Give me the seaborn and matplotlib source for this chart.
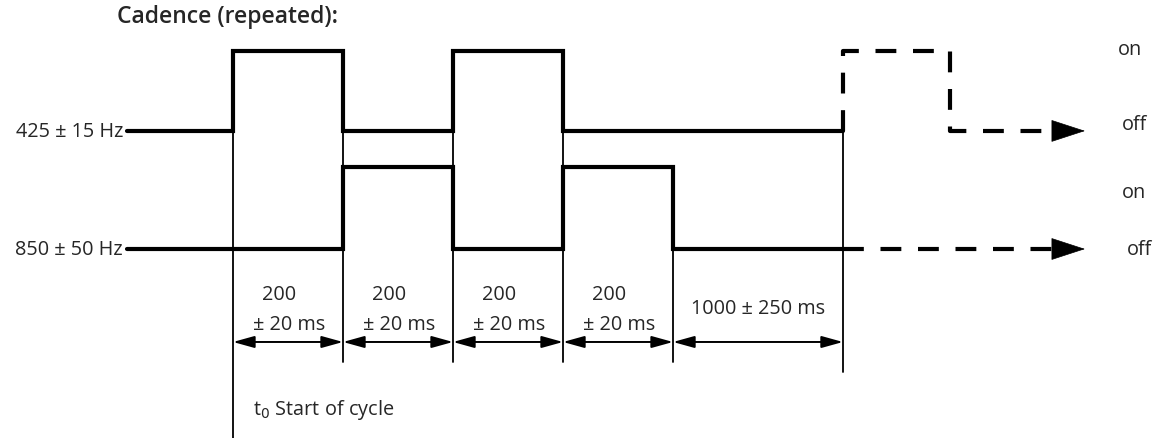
import numpy as np
import pandas as pd
import matplotlib
matplotlib.use("Agg")
import matplotlib.pyplot as plt
import seaborn as sns

# ---------------- data ----------------
title = "Cadence (repeated):"
channel_labels = ["425 ± 15 Hz", "850 ± 50 Hz"]
lead_in = -0.964                      # start of the traces (schematic units, t0 = 0)
edges = [0, 1, 2, 3, 4, 5.545]        # segment boundaries: 200,200,200,200,1000 ms
state_425 = [0, 1, 0, 1, 0, 0]        # lead-in + 5 segments (0 = off, 1 = on)
state_850 = [0, 0, 1, 0, 1, 0]
repeat_edges = [5.545, 6.52, 7.745]   # repeated cadence (dashed)
repeat_425 = [1, 0]
repeat_850 = [0, 0]
seg_value = ["200", "200", "200", "200", ""]
seg_tol = ["± 20 ms", "± 20 ms", "± 20 ms", "± 20 ms", ""]
long_label = "1000 ± 250 ms"
start_label = "t$_0$ Start of cycle"
state_labels = ["on", "off", "on", "off"]

# ---------------- style ----------------
sns.set_style("white")
plt.rcParams["font.family"] = ["Open Sans", "DejaVu Sans"]
plt.rcParams["mathtext.fontset"] = "dejavusans"

base = {"425": 1.44, "850": 0.0}
amp = {"425": 0.98, "850": 1.0}
THICK = 3.0
THIN = 1.3
FS = 14.3

fig = plt.figure(figsize=(11.61, 4.39), dpi=100)
ax = fig.add_axes([0, 0, 1, 1])
ax.set_xlim(-2.118, 8.436)
ax.set_ylim(-2.305, 3.049)
ax.axis("off")


def level(ch, s):
    return base[ch] + amp[ch] * s


# solid traces
for ch, st in (("425", state_425), ("850", state_850)):
    xs = [lead_in] + edges
    ys = [level(ch, s) for s in st] + [level(ch, st[-1])]
    df = pd.DataFrame({"x": xs, "y": ys})
    sns.lineplot(data=df, x="x", y="y", ax=ax, estimator=None, sort=False,
                 drawstyle="steps-post", color="black", lw=THICK,
                 solid_capstyle="round", solid_joinstyle="miter")

# dashed repeated traces with arrows
head_len = 0.29
for ch, st, start_state in (("425", repeat_425, state_425[-1]),
                            ("850", repeat_850, state_850[-1])):
    tip = repeat_edges[-1]
    xs = [repeat_edges[0]] + repeat_edges[:-1] + [tip - head_len]
    ys = [level(ch, start_state)] + [level(ch, s) for s in st] + [level(ch, st[-1])]
    df = pd.DataFrame({"x": xs, "y": ys})
    sns.lineplot(data=df, x="x", y="y", ax=ax, estimator=None, sort=False,
                 drawstyle="steps-post", color="black", lw=THICK,
                 dashes=False, linestyle=(0, (5, 4)), dash_capstyle="butt")
    y_end = level(ch, st[-1])
    ax.annotate("", xy=(tip, y_end), xytext=(tip - head_len, y_end),
                arrowprops=dict(arrowstyle="-|>,head_length=2.3,head_width=0.75",
                                mutation_scale=10, color="black", lw=0.5,
                                shrinkA=0, shrinkB=0))

# thin guide lines
guide_top = [level("425", 0)] * 4 + [level("850", 1), level("425", 0)]
guide_bot = [-2.31, -1.378, -1.378, -1.378, -1.378, -1.5]
for x, t, b in zip(edges, guide_top, guide_bot):
    ax.plot([x, x], [t, b], color="black", lw=THIN, zorder=1)

# dimension arrows
dim_y = -1.134
for a, b in zip(edges[:-1], edges[1:]):
    ax.annotate("", xy=(b, dim_y), xytext=(a, dim_y),
                arrowprops=dict(arrowstyle="<|-|>,head_length=1.3,head_width=0.36",
                                mutation_scale=10, color="black", lw=1.4,
                                shrinkA=0, shrinkB=0))

# segment texts
for a, b, v, t in zip(edges[:-1], edges[1:], seg_value, seg_tol):
    c = (a + b) / 2
    if v:
        ax.text(c - 0.08, -0.549, v, ha="center", va="center", fontsize=FS)
        ax.text(c + 0.01, -0.915, t, ha="center", va="center", fontsize=FS)
ax.text((edges[-2] + edges[-1]) / 2, -0.72, long_label, ha="center",
        va="center", fontsize=FS)

# labels
ax.text(-1.0, level("425", 0), channel_labels[0], ha="right", va="center", fontsize=FS)
ax.text(-1.0, level("850", 0), channel_labels[1], ha="right", va="center", fontsize=FS)
ax.text(-1.055, 2.84, title, ha="left", va="center", fontsize=16.5, fontweight="semibold")
ax.text(0.18, -1.95, start_label, ha="left", va="center", fontsize=FS)

state_y = [level("425", 1) + 0.02, level("425", 0) + 0.08, level("850", 1) - 0.3, level("850", 0)]
state_x = [8.04, 8.08, 8.08, 8.13]
for x, y, s in zip(state_x, state_y, state_labels):
    ax.text(x, y, s, ha="left", va="center", fontsize=FS)

fig.savefig("out.png", dpi=100)
